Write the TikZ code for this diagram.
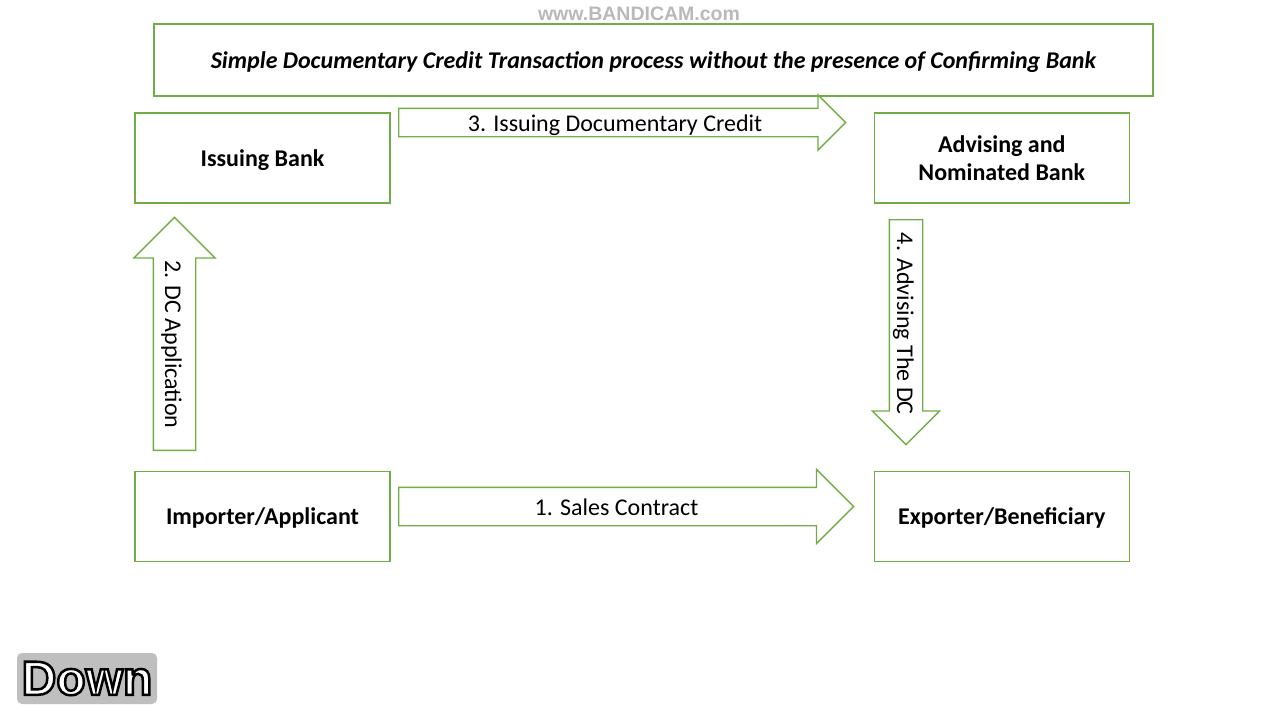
\documentclass[tikz,border=0pt]{standalone}
\usepackage{fontspec}
\setmainfont{Carlito}
\newfontfamily\wmfont{Liberation Sans}
\usepackage{xcolor}
\usetikzlibrary{positioning,shapes.arrows}

\definecolor{dcgreen}{HTML}{70AD47}
\definecolor{btngray}{HTML}{BFBFBF}

\tikzset{
  bankbox/.style={draw=dcgreen,line width=1.3pt,minimum width=255pt,minimum height=90pt,
    inner sep=0pt,text depth=0pt,align=center,font=\fontsize{24}{28}\selectfont\bfseries},
  flowarrow/.style={single arrow,draw=dcgreen,line width=1.3pt,single arrow tip angle=90,
    inner xsep=0pt,inner ysep=0pt,font=\fontsize{24}{29}\selectfont},
}

\begin{document}
\begin{tikzpicture}[x=1pt,y=-1pt]
\useasboundingbox (0,0) rectangle (1280,720);

\node[draw=dcgreen,line width=1.3pt,minimum width=999pt,minimum height=72pt,inner sep=0pt,text depth=0pt,
  font=\fontsize{24}{29}\selectfont\bfseries\itshape] (title) at (653.5,60)
  {Simple Documentary Credit Transaction process without the presence of Confirming Bank};

\node[bankbox] (issuing) at (262.5,158) {Issuing Bank};
\node[bankbox,right=483pt of issuing] (advising) {Advising and\\Nominated Bank};
\node[bankbox,below=267pt of issuing] (importer) {Importer/Applicant};
\node[bankbox,below=267pt of advising] (exporter) {Exporter/Beneficiary};

% flows between the parties
\node[flowarrow,minimum height=455pt,single arrow head extend=18pt,text height=27pt,text depth=10pt,
  anchor=tail] (sales) at (398,506.5) {1. Sales Contract};
\node[flowarrow,minimum height=233pt,single arrow head extend=19.5pt,text height=30pt,text depth=11pt,
  rotate=-90,shape border rotate=180,anchor=tail] (application) at (174.5,451) {2. DC Application};
\node[flowarrow,minimum height=447pt,single arrow head extend=13.5pt,text height=22.5pt,text depth=4.5pt,
  anchor=tail] (issue) at (398,122.5) {3. Issuing Documentary Credit};
\node[flowarrow,minimum height=225pt,single arrow head extend=17pt,text height=25pt,text depth=7pt,
  rotate=-90,anchor=tail] (advise) at (906,219) {4. Advising The DC};

% recorder overlays
\node[text=gray!55,font=\wmfont\fontsize{19.5}{22}\selectfont\bfseries] (wm) at (639,13.5) {www.BANDICAM.com};
\node[fill=btngray,rounded corners=5pt,minimum width=140pt,minimum height=51pt] (btn) at (87,678.5) {};
\node[text=white,font=\wmfont\fontsize{48}{50}\selectfont\bfseries] (down) at (btn.center)
  {\special{pdf:literal 2 Tr 2.5 w 0 0 0 RG}Down\special{pdf:literal 0 Tr}};
\end{tikzpicture}
\end{document}
